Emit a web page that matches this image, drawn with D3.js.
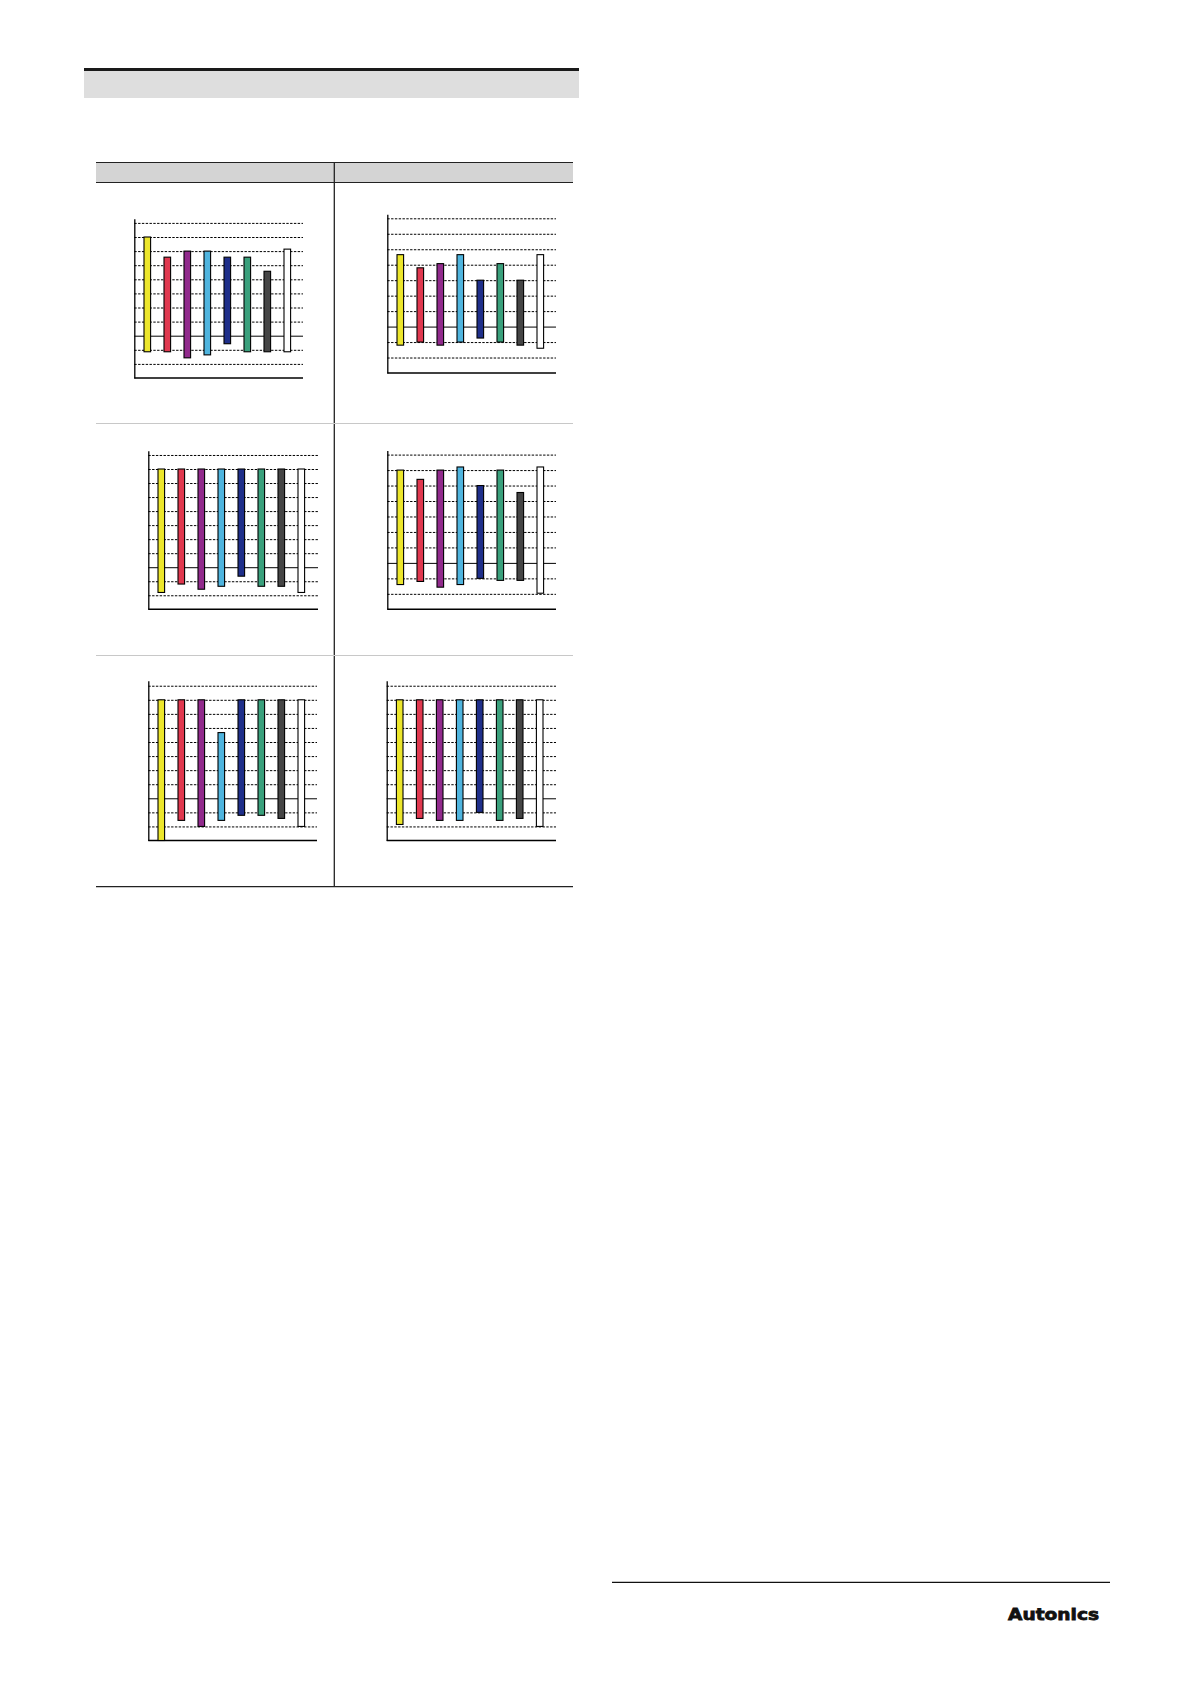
<!DOCTYPE html>
<meta charset="utf-8">
<style>
body { margin: 0; background: #fff; }
.grid line { stroke: #000; stroke-width: 1px; stroke-dasharray: 2.4,1.4; }
.grid line.solid { stroke-dasharray: none; }
.grid path { stroke: #000; stroke-width: 1.3px; }
.base { stroke: #000; stroke-width: 1.5px; }
.bar { stroke: #000; stroke-width: 1.1px; }
.rule { stroke: #222; }
</style>
<svg width="1191" height="1684"></svg>
<script src="https://d3js.org/d3.v7.min.js"></script>
<script>

// colour categories, left to right in every panel
var categories = ["yellow", "red", "purple", "skyblue", "navy", "green", "gray", "white"];
var fills = ["#ece62c", "#e0384f", "#912a8c", "#4fb4de", "#1f2f8a", "#3aa07c", "#454545", "#ffffff"];

// bar ranges, in grid steps above the x axis (low end / high end)
var lowA  = [1.86, 1.86, 1.43, 1.64, 2.43, 1.86, 1.86, 1.86];
var highA = [10, 8.57, 9, 9, 8.57, 8.57, 7.57, 9.14];

var lowB  = [1.8, 2, 1.8, 2, 2.26, 2, 1.8, 1.6];
var highB = [7.65, 6.8, 7.07, 7.65, 6, 7.07, 6, 7.65];

var lowC  = [1.2, 1.8, 1.43, 1.64, 2.36, 1.64, 1.64, 1.2];
var highC = [10, 10, 10, 10, 10, 10, 10, 10];

var lowD  = [1.6, 1.8, 1.43, 1.6, 2, 1.87, 1.87, 1.04];
var highD = [9, 8.4, 9, 9.2, 8, 9, 7.55, 9.2];

var lowE  = [0, 1.43, 1, 1.43, 1.79, 1.79, 1.57, 1];
var highE = [10, 10, 10, 7.67, 10, 10, 10, 10];

var lowF  = [1.14, 1.57, 1.43, 1.43, 2, 1.43, 1.57, 1];
var highF = [10, 10, 10, 10, 10, 10, 10, 10];

// grid lines (the one at 3 is solid)
var gridEleven = [1, 2, 3, 4, 5, 6, 7, 8, 9, 10, 11];
var gridTen = [1, 2, 3, 4, 5, 6, 7, 8, 9, 10];
var solidLevel = 3;

var svg = d3.select("svg");

svg.append("rect").attr("width", 1191).attr("height", 1684).attr("fill", "#fff");

// section heading band
svg.append("rect").attr("x", 84).attr("y", 71).attr("width", 495).attr("height", 27).attr("fill", "#dedede");
svg.append("rect").attr("x", 84).attr("y", 68).attr("width", 495).attr("height", 3).attr("fill", "#1a1a1a");

// table
svg.append("rect").attr("x", 96).attr("y", 162).attr("width", 477).attr("height", 20).attr("fill", "#d4d4d4");
svg.append("line").attr("class", "rule").attr("x1", 96).attr("x2", 573).attr("y1", 162.5).attr("y2", 162.5).attr("stroke-width", 1.2);
svg.append("line").attr("class", "rule").attr("x1", 96).attr("x2", 573).attr("y1", 182.5).attr("y2", 182.5).attr("stroke-width", 1.2);
svg.append("line").attr("class", "rule").attr("x1", 334.3).attr("x2", 334.3).attr("y1", 162).attr("y2", 887).attr("stroke-width", 1.3);
[423.5, 655.5].forEach(function(y) {
  svg.append("line").attr("x1", 96).attr("x2", 573).attr("y1", y).attr("y2", y)
      .attr("stroke", "#c8c8c8").attr("stroke-width", 1.2);
});
svg.append("line").attr("class", "rule").attr("x1", 96).attr("x2", 573).attr("y1", 886.7).attr("y2", 886.7).attr("stroke-width", 1.3);

var panels = [
  {low: lowA, high: highA, grid: gridEleven, ax: 134.3, base: 378,   step: 14.1,  top: 11.3,  right: 303},
  {low: lowB, high: highB, grid: gridTen,    ax: 387.3, base: 373,   step: 15.47, top: 10.26, right: 556},
  {low: lowC, high: highC, grid: gridEleven, ax: 148.3, base: 609.3, step: 14.03, top: 11.3,  right: 318},
  {low: lowD, high: highD, grid: gridTen,    ax: 387.3, base: 609.3, step: 15.47, top: 10.26, right: 556},
  {low: lowE, high: highE, grid: gridEleven, ax: 148.3, base: 840.5, step: 14.07, top: 11.35, right: 317},
  {low: lowF, high: highF, grid: gridEleven, ax: 386.7, base: 840.5, step: 14.07, top: 11.35, right: 556}
];

panels.forEach(function(p) {
  var y = d3.scaleLinear().domain([0, p.top]).range([p.base, p.base - p.top * p.step]);
  var x = d3.scalePoint().domain(categories).range([p.ax + 13, p.ax + 153]);
  var w = p.right - p.ax;
  var barW = 6.6;

  var g = svg.append("g");

  g.append("g")
      .attr("class", "grid")
      .attr("transform", "translate(" + p.ax + ",0)")
      .call(d3.axisLeft(y).tickValues(p.grid).tickSize(-w).tickSizeOuter(0).tickFormat(""))
    .selectAll(".tick line")
      .classed("solid", function(d) { return d === solidLevel; });

  g.append("line")
      .attr("class", "base")
      .attr("x1", p.ax).attr("x2", p.right)
      .attr("y1", y(0)).attr("y2", y(0));

  g.selectAll(".bar")
    .data(categories)
    .enter().append("rect")
      .attr("class", "bar")
      .attr("x", function(d) { return x(d) - barW / 2; })
      .attr("y", function(d, i) { return y(p.high[i]); })
      .attr("width", barW)
      .attr("height", function(d, i) { return y(p.low[i]) - y(p.high[i]); })
      .attr("fill", function(d, i) { return fills[i]; });
});

// footer
svg.append("line").attr("x1", 612).attr("x2", 1110).attr("y1", 1582.3).attr("y2", 1582.3)
    .attr("stroke", "#111").attr("stroke-width", 1.2);
svg.append("text")
    .attr("x", 1008).attr("y", 1619.5)
    .attr("textLength", 91).attr("lengthAdjust", "spacingAndGlyphs")
    .attr("font-family", "DejaVu Sans")
    .attr("font-weight", 900)
    .attr("font-size", 16.5)
    .attr("fill", "#111")
    .attr("stroke", "#111")
    .attr("stroke-width", 0.8)
    .text("Autonics");

</script>
